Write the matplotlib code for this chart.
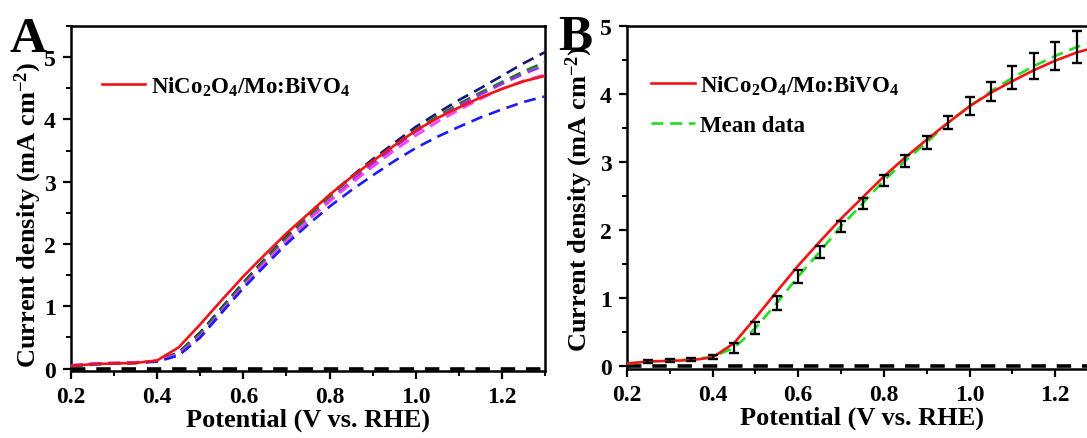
"""LSV curves of NiCo2O4/Mo:BiVO4 photoanodes: (A) repeated sweeps,
(B) one sweep against the mean of all sweeps with error bars."""
import matplotlib.pyplot as plt
from matplotlib.ticker import MultipleLocator

plt.rcParams["font.family"] = ["Liberation Serif", "DejaVu Serif"]
plt.rcParams["font.weight"] = "bold"
plt.rcParams["mathtext.fontset"] = "custom"
plt.rcParams["mathtext.rm"] = "Liberation Serif:bold"
plt.rcParams["mathtext.it"] = "Liberation Serif:bold"
plt.rcParams["mathtext.bf"] = "Liberation Serif:bold"

# potential grid (V vs. RHE)
potential = [0.20, 0.25, 0.30, 0.35, 0.40, 0.45, 0.50, 0.55, 0.60, 0.65, 0.70,
             0.75, 0.80, 0.85, 0.90, 0.95, 1.00, 1.05, 1.10, 1.15, 1.20, 1.25, 1.30]

# champion sweep (mA cm-2)
j_main = [0.04, 0.07, 0.08, 0.09, 0.13, 0.34, 0.71, 1.10, 1.48, 1.83, 2.17,
          2.48, 2.79, 3.07, 3.33, 3.58, 3.82, 4.02, 4.19, 4.35, 4.49, 4.61, 4.70]

# repeated sweeps
j_rep_navy = [0.04, 0.07, 0.08, 0.09, 0.12, 0.26, 0.58, 0.98, 1.38, 1.76, 2.12,
              2.45, 2.78, 3.08, 3.36, 3.62, 3.88, 4.10, 4.31, 4.50, 4.70, 4.90, 5.08]
j_rep_green = [0.04, 0.07, 0.08, 0.09, 0.12, 0.25, 0.56, 0.96, 1.36, 1.74, 2.10,
               2.43, 2.76, 3.06, 3.33, 3.58, 3.83, 4.05, 4.25, 4.43, 4.60, 4.77, 4.92]
j_rep_purple = [0.05, 0.08, 0.09, 0.10, 0.12, 0.22, 0.50, 0.90, 1.30, 1.68, 2.04,
                2.38, 2.70, 3.00, 3.29, 3.55, 3.80, 4.02, 4.22, 4.40, 4.57, 4.73, 4.87]
j_rep_magenta = [0.05, 0.08, 0.09, 0.10, 0.12, 0.23, 0.52, 0.92, 1.32, 1.70, 2.05,
                 2.38, 2.68, 2.97, 3.24, 3.50, 3.74, 3.96, 4.15, 4.33, 4.49, 4.62, 4.72]
j_rep_blue = [0.04, 0.07, 0.08, 0.09, 0.11, 0.21, 0.50, 0.90, 1.29, 1.65, 2.00,
              2.31, 2.60, 2.86, 3.10, 3.33, 3.54, 3.72, 3.88, 4.03, 4.16, 4.28, 4.37]

rep_curves = [j_rep_navy, j_rep_green, j_rep_purple, j_rep_magenta, j_rep_blue]
rep_colors = ["#15157c", "#1d7a1d", "#9a2df0", "#ff3dff", "#1c1cf5"]

# mean of the sweeps and its standard deviation
j_mean = [0.04, 0.07, 0.09, 0.10, 0.14, 0.27, 0.56, 0.93, 1.32, 1.68, 2.06,
          2.39, 2.73, 3.02, 3.29, 3.58, 3.82, 4.04, 4.24, 4.41, 4.56, 4.69, 4.79]
j_std = [0.0, 0.02, 0.02, 0.02, 0.03, 0.07, 0.09, 0.10, 0.09, 0.09, 0.08,
         0.08, 0.08, 0.09, 0.10, 0.10, 0.13, 0.14, 0.17, 0.19, 0.21, 0.23, 0.0]

# dark current
dark_v = [0.2, 1.3]
dark_j = [0.0, 0.0]

main_label = r"NiCo$_\mathregular{2}$O$_\mathregular{4}$/Mo:BiVO$_\mathregular{4}$"
ylabel = r"Current density (mA cm$^\mathregular{-2}$)"

W, H = 1087, 439
fig = plt.figure(figsize=(W / 100, H / 100), dpi=100)
ax_a = fig.add_axes([71 / W, (H - 372) / H, 474 / W, 345 / H])
ax_b = fig.add_axes([627 / W, (H - 370) / H, 471 / W, 343 / H])


def style_axes(ax, ymax, ylabel_xy):
    ax.set_xlim(0.2, 1.3)
    ax.set_ylim(-0.04, ymax)
    ax.xaxis.set_major_locator(MultipleLocator(0.2))
    ax.xaxis.set_minor_locator(MultipleLocator(0.1))
    ax.yaxis.set_major_locator(MultipleLocator(1))
    ax.yaxis.set_minor_locator(MultipleLocator(0.5))
    ax.xaxis.set_major_formatter(plt.FuncFormatter(lambda v, _: f"{v:.1f}"))
    ax.tick_params(which="major", direction="out", length=6, width=1.6,
                   labelsize=17, pad=5, top=False, right=False)
    ax.tick_params(which="minor", direction="out", length=3.5, width=1.4,
                   top=False, right=False)
    for s in ax.spines.values():
        s.set_linewidth(1.8)
    ax.set_xlabel("Potential (V vs. RHE)", fontsize=19, fontweight="bold", labelpad=0)
    ax.set_ylabel(ylabel, fontsize=19, fontweight="bold")
    ax.yaxis.set_label_coords(*ylabel_xy)


# (A) repeated sweeps
ax_a.plot(dark_v, dark_j, color="black", lw=2.6, dashes=(4, 3), zorder=2)
for j, c in zip(rep_curves, rep_colors):
    ax_a.plot(potential, j, color=c, lw=1.9, dashes=(4.5, 2.6), zorder=3)
ax_a.plot(potential, j_main, color="#f01515", lw=1.9, zorder=4, label=main_label)
style_axes(ax_a, 5.5, (-0.058, 0.455))
ax_a.legend(loc="center left", bbox_to_anchor=(0.065, 0.826), frameon=False,
            fontsize=16.5, handlelength=1.9, handletextpad=0.25,
            borderpad=0, borderaxespad=0)

# (B) single sweep vs. mean with error bars
ax_b.plot(dark_v, dark_j, color="black", lw=2.6, dashes=(4, 3), zorder=2)
ax_b.plot(potential, j_main, color="#f01515", lw=1.9, zorder=4, label=main_label)
ax_b.plot(potential, j_mean, color="#22dd22", lw=1.9, dashes=(4.5, 2.6),
          zorder=3, label="Mean data")
ax_b.errorbar(potential[1:-1], j_mean[1:-1], yerr=j_std[1:-1], fmt="none",
              ecolor="black", elinewidth=1.6, capsize=3.4, capthick=1.7, zorder=5)
style_axes(ax_b, 5.0, (-0.068, 0.5))
ax_b.legend(loc="upper left", bbox_to_anchor=(0.051, 0.862), frameon=False,
            fontsize=16.5, handlelength=1.9, handletextpad=0.25, labelspacing=0.8,
            borderpad=0, borderaxespad=0)

fig.text(10 / W, (H - 52) / H, "A", fontsize=37, fontweight="bold", va="baseline")
fig.text(558 / W, (H - 50) / H, "B", fontsize=37, fontweight="bold", va="baseline")

fig.savefig("out.png", dpi=100)
